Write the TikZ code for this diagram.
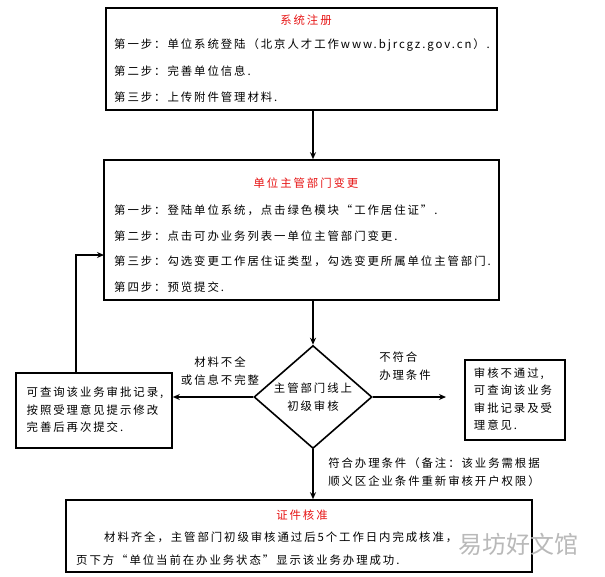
\documentclass[tikz,border=0pt]{standalone}
\usepackage{fontspec}
\setmainfont{Noto Sans CJK SC}[LetterSpace=17]
\newfontfamily\wmfont{Noto Sans CJK SC}
\usetikzlibrary{shapes.geometric,arrows.meta}
\definecolor{titlered}{RGB}{230,20,20}
\tikzset{
  box/.style={draw, line width=1.6pt, inner sep=0pt},
  txt/.style={anchor=west, inner sep=0pt, font=\fontsize{11.4}{13}\selectfont},
  ttl/.style={inner sep=0pt, text=titlered, font=\fontsize{11.4}{13}\selectfont},
  lbl/.style={inner sep=0pt, align=left, font=\fontsize{11.4}{17.5}\selectfont},
  arr/.style={line width=1.6pt, -{Stealth[length=7pt,width=6pt]}},
  wm/.style={inner sep=0pt, text=gray!55, font=\wmfont\fontsize{24}{26}\selectfont}
}
\begin{document}
\begin{tikzpicture}[x=1pt,y=-1pt]
\useasboundingbox (0,0) rectangle (605,576);
% box 1
\node[box, minimum width=391, minimum height=102] (b1) at (301.5,59) {};
\node[ttl] (t1) at (306,20) {系统注册};
\node[txt] (l11) at (114,45) {第一步：单位系统登陆（北京人才工作www.bjrcgz.gov.cn）.};
\node[txt] (l12) at (114,71) {第二步：完善单位信息.};
\node[txt] (l13) at (114,97) {第三步：上传附件管理材料.};
% box 2
\node[box, minimum width=395, minimum height=140] (b2) at (301.5,230) {};
\node[ttl] (t2) at (306,183) {单位主管部门变更};
\node[txt] (l21) at (114,210) {第一步：登陆单位系统，点击绿色模块“工作居住证”.};
\node[txt] (l22) at (114,236) {第二步：点击可办业务列表一单位主管部门变更.};
\node[txt] (l23) at (114,261) {第三步：勾选变更工作居住证类型，勾选变更所属单位主管部门.};
\node[txt] (l24) at (114,287) {第四步：预览提交.};
% diamond
\node[draw, line width=1.6pt, diamond, aspect=1.15, minimum width=118, minimum height=103, inner sep=0pt] (d) at (313,397) {};
\node[lbl, align=center] (dt) at (313,397) {主管部门线上\\初级审核};
% left box
\node[box, minimum width=156, minimum height=75] (lb) at (94,410.5) {};
\node[lbl] (lbt) at (95,410) {可查询该业务审批记录,\\按照受理意见提示修改\\完善后再次提交.};
% right box
\node[box, minimum width=100, minimum height=80] (rb) at (515,400) {};
\node[lbl] (rbt) at (513,399) {审核不通过,\\可查询该业务\\审批记录及受\\理意见.};
% box 4
\node[box, minimum width=466, minimum height=72] (b4) at (299,536) {};
\node[ttl] (t4) at (302,515) {证件核准};
\node[txt] (l41) at (104,537) {材料齐全，主管部门初级审核通过后5个工作日内完成核准，};
\node[txt] (l42) at (76,560) {页下方“单位当前在办业务状态”显示该业务办理成功.};
% connectors
\draw[arr] (b1.south -| d.north) -- (b2.north -| d.north);
\draw[arr] (b2.south -| d.north) -- (d.north);
\draw[arr] (d.west) -- (lb.east |- d.west);
\coordinate (j) at (104,255);
\draw[arr] (lb.north -| 76,0) |- (j);
\coordinate (re) at (446,397);
\draw[arr] (d.east) -- (re);
\draw[arr] (d.south) -- (b4.north -| d.south);
% labels
\node[lbl, align=center] (la) at (220,371) {材料不全\\或信息不完整};
\node[lbl] (lr) at (405,366) {不符合\\办理条件};
\node[lbl] (ld) at (434,472) {符合办理条件（备注：该业务需根据\\顺义区企业条件重新审核开户权限）};
% watermark
\node[wm] (wm) at (518,544) {易坊好文馆};
\end{tikzpicture}
\end{document}
